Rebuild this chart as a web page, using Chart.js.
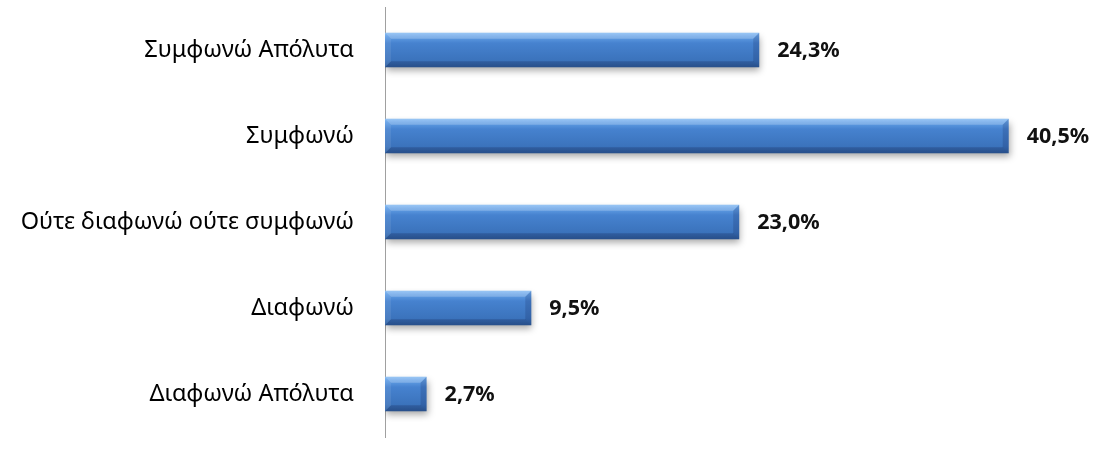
<!DOCTYPE html>
<html>
<head>
<meta charset="utf-8">
<script src="https://cdn.jsdelivr.net/npm/chart.js@4/dist/chart.umd.min.js"></script>
<style>
  html, body { margin: 0; padding: 0; background: #fff; }
  #wrap { width: 1103px; height: 459px; position: relative; }
</style>
</head>
<body>
<div id="wrap"><canvas id="barChart"></canvas></div>
<script>
// ---- data ----
const categories = ['Συμφωνώ Απόλυτα', 'Συμφωνώ', 'Ούτε διαφωνώ ούτε συμφωνώ', 'Διαφωνώ', 'Διαφωνώ Απόλυτα'];
const percentValues = [24.3, 40.5, 23.0, 9.5, 2.7];

const FONT = '"Noto Sans", "DejaVu Sans", sans-serif';
const BAR_FRACTION = 0.4; // barPercentage * categoryPercentage

// vertical gradient for each bar, like the bevelled Excel look
function barGradient(context) {
  const chart = context.chart;
  const yScale = chart.scales.y;
  if (!yScale || context.dataIndex === undefined) return '#3c74bd';
  const center = yScale.getPixelForValue(context.dataIndex);
  const step = Math.abs(yScale.getPixelForValue(1) - yScale.getPixelForValue(0));
  const half = step * BAR_FRACTION / 2;
  if (!Number.isFinite(center) || !Number.isFinite(half) || half <= 0) return '#3c74bd';
  const g = chart.ctx.createLinearGradient(0, center - half, 0, center + half);
  g.addColorStop(0, '#7db6f2');
  g.addColorStop(0.1, '#63a0e6');
  g.addColorStop(0.3, '#4682cf');
  g.addColorStop(0.8, '#3b73bc');
  g.addColorStop(1, '#305f9e');
  return g;
}

// shadow under the bars + bevel edges + value labels
const bevelPlugin = {
  id: 'bevel',
  beforeDatasetsDraw(chart) {
    const ctx = chart.ctx;
    ctx.save();
    ctx.shadowColor = 'rgba(0,0,0,0.35)';
    ctx.shadowBlur = 7;
    ctx.shadowOffsetY = 4;
    ctx.shadowOffsetX = 1;
  },
  afterDatasetsDraw(chart) {
    const ctx = chart.ctx;
    ctx.restore();
    const meta = chart.getDatasetMeta(0);
    meta.data.forEach((bar, i) => {
      const x0 = bar.base, x1 = bar.x;
      const y0 = bar.y - bar.height / 2, y1 = bar.y + bar.height / 2;
      const b = Math.min(6, (x1 - x0) / 3);
      ctx.save();
      // top edge
      ctx.fillStyle = 'rgba(255,255,255,0.22)';
      ctx.beginPath();
      ctx.moveTo(x0, y0); ctx.lineTo(x1, y0); ctx.lineTo(x1 - b, y0 + b); ctx.lineTo(x0 + b, y0 + b);
      ctx.closePath(); ctx.fill();
      // left edge
      ctx.fillStyle = 'rgba(255,255,255,0.08)';
      ctx.beginPath();
      ctx.moveTo(x0, y0); ctx.lineTo(x0 + b, y0 + b); ctx.lineTo(x0 + b, y1 - b); ctx.lineTo(x0, y1);
      ctx.closePath(); ctx.fill();
      // right edge
      ctx.fillStyle = 'rgba(0,0,40,0.14)';
      ctx.beginPath();
      ctx.moveTo(x1, y0); ctx.lineTo(x1 - b, y0 + b); ctx.lineTo(x1 - b, y1 - b); ctx.lineTo(x1, y1);
      ctx.closePath(); ctx.fill();
      // bottom edge
      ctx.fillStyle = 'rgba(0,0,40,0.16)';
      ctx.beginPath();
      ctx.moveTo(x0, y1); ctx.lineTo(x1, y1); ctx.lineTo(x1 - b, y1 - b); ctx.lineTo(x0 + b, y1 - b);
      ctx.closePath(); ctx.fill();
      ctx.restore();

      // value label
      ctx.save();
      ctx.font = 'bold 21.5px ' + FONT;
      ctx.fillStyle = '#111';
      ctx.textAlign = 'left';
      ctx.textBaseline = 'middle';
      ctx.fillText(percentValues[i].toFixed(1).replace('.', ',') + '%', x1 + 18, bar.y + 1);
      ctx.restore();
    });
  }
};

new Chart(document.getElementById('barChart'), {
  type: 'bar',
  data: {
    labels: categories,
    datasets: [{
      data: percentValues,
      backgroundColor: barGradient,
      borderWidth: 0,
      barPercentage: 0.8,
      categoryPercentage: 0.5
    }]
  },
  options: {
    indexAxis: 'y',
    responsive: true,
    maintainAspectRatio: false,
    animation: false,
    layout: { padding: { top: 7, bottom: 22, left: 0, right: 25 } },
    plugins: { legend: { display: false }, tooltip: { enabled: false } },
    scales: {
      x: {
        min: 0,
        max: 45,
        display: false
      },
      y: {
        grid: { display: false },
        border: { display: true, color: '#a0a0a0', width: 1 },
        afterFit(scale) {
          scale.width = 385;
          scale.paddingTop = 0;
          scale.paddingBottom = 0;
        },
        ticks: {
          color: '#000',
          padding: 23,
          font: { family: FONT, size: 23.5 }
        }
      }
    }
  },
  plugins: [bevelPlugin]
});
</script>
</body>
</html>
